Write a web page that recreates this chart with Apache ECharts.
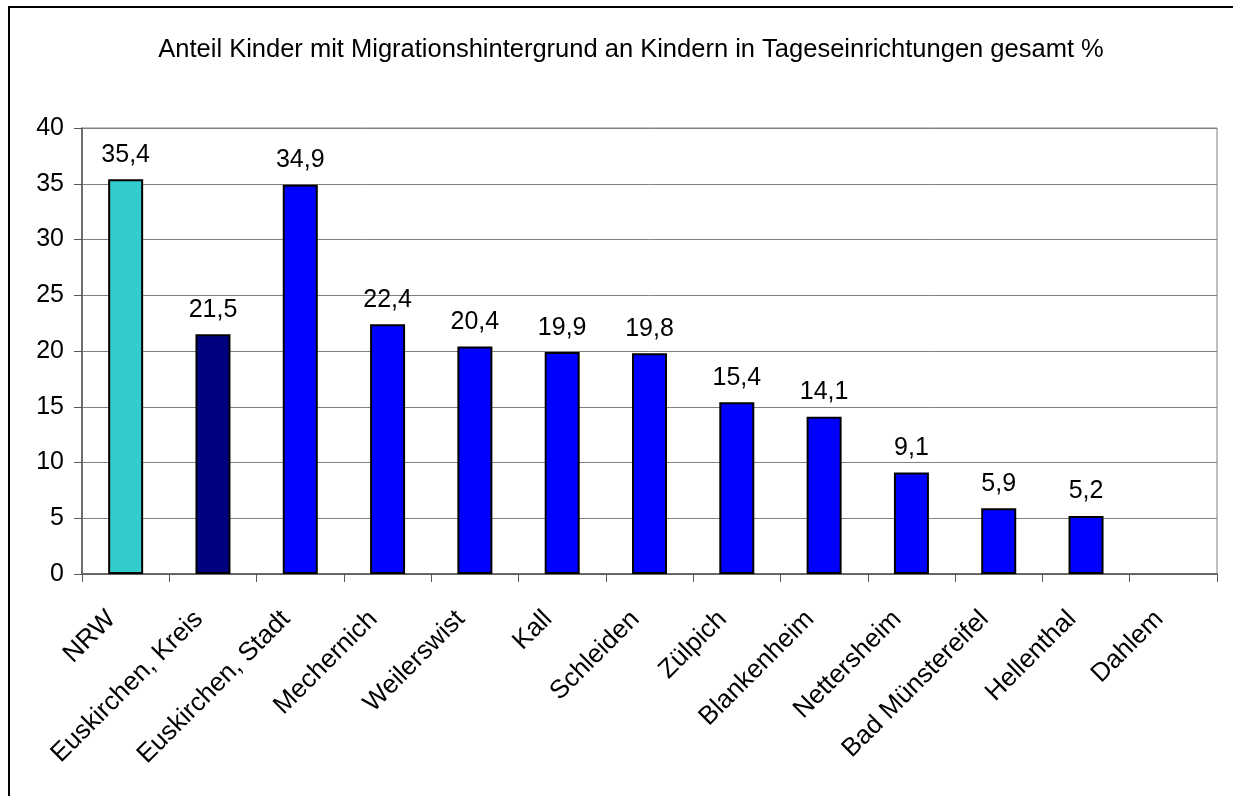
<!DOCTYPE html>
<html>
<head>
<meta charset="utf-8">
<script src="https://cdn.jsdelivr.net/npm/echarts@6/dist/echarts.min.js"></script>
<style>
    html, body { margin: 0; padding: 0; background: #fff; }
    #chart { width: 1233px; height: 796px; }
</style>
</head>
<body>
<div id="chart"></div>
<script>
// Daten
var categories = ['NRW', 'Euskirchen, Kreis', 'Euskirchen, Stadt', 'Mechernich', 'Weilerswist', 'Kall',
    'Schleiden', 'Zülpich', 'Blankenheim', 'Nettersheim', 'Bad Münstereifel', 'Hellenthal', 'Dahlem'];
var values = [35.4, 21.5, 34.9, 22.4, 20.4, 19.9, 19.8, 15.4, 14.1, 9.1, 5.9, 5.2, null];
var barColors = ['#33cccc', '#000080', '#0000ff', '#0000ff', '#0000ff', '#0000ff', '#0000ff',
    '#0000ff', '#0000ff', '#0000ff', '#0000ff', '#0000ff', '#0000ff'];
var yTicks = [0, 5, 10, 15, 20, 25, 30, 35, 40];

(function () {
    let myEchart = echarts.init(document.getElementById('chart'));
    var font = 'Liberation Sans, Arial, sans-serif';
    var seriesData = values.map(function (v, i) {
        return { value: v, itemStyle: { color: barColors[i] } };
    });
    let option = {
        animation: false,
        textStyle: { fontFamily: font },
        title: {
            text: 'Anteil Kinder mit Migrationshintergrund an Kindern in Tageseinrichtungen gesamt %',
            left: 626,
            top: 32,
            textAlign: 'center',
            textStyle: { fontSize: 25.5, fontWeight: 'normal', color: '#000', fontFamily: font }
        },
        // äußerer Rahmen
        graphic: [{
            type: 'rect',
            shape: { x: 9, y: 7, width: 1240, height: 800 },
            style: { fill: 'none', stroke: '#000', lineWidth: 2 },
            silent: true
        }],
        grid: {
            left: 82,
            right: 16,
            top: 128,
            bottom: 222,
            show: true,
            borderColor: '#808080',
            borderWidth: 1
        },
        xAxis: {
            type: 'category',
            data: categories,
            axisTick: { show: true, length: 8, alignWithLabel: false, lineStyle: { color: '#555' } },
            axisLine: { lineStyle: { color: '#555', width: 1.5 } },
            axisLabel: {
                rotate: 45,
                interval: 0,
                fontSize: 26,
                color: '#000',
                margin: 27,
                padding: [0, 20, 0, 0],
                fontFamily: font
            }
        },
        yAxis: {
            type: 'value',
            min: yTicks[0],
            max: yTicks[yTicks.length - 1],
            interval: 5,
            axisLine: { show: true, lineStyle: { color: '#555', width: 1.5 } },
            axisTick: { show: true, length: 8, inside: false, lineStyle: { color: '#555' } },
            axisLabel: { fontSize: 25, color: '#000', margin: 18, fontFamily: font },
            splitLine: { lineStyle: { color: '#808080', width: 1 } }
        },
        series: [{
            type: 'bar',
            data: seriesData,
            barWidth: 35,
            itemStyle: { borderColor: '#000', borderWidth: 2 },
            label: {
                show: true,
                position: 'top',
                distance: 12,
                fontSize: 25,
                color: '#000',
                fontFamily: font,
                formatter: function (p) {
                    return p.value == null ? '' : String(p.value.toFixed(1)).replace('.', ',');
                }
            }
        }]
    };
    myEchart.setOption(option);
})();
</script>
</body>
</html>
